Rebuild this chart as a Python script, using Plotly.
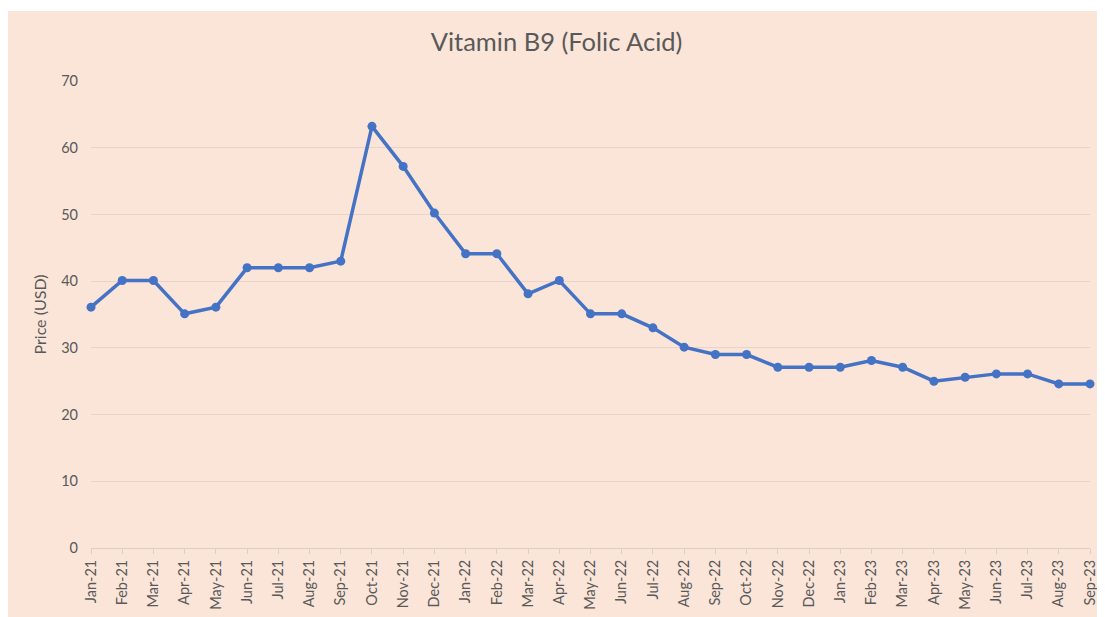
import plotly.graph_objects as go

months = ["Jan-21","Feb-21","Mar-21","Apr-21","May-21","Jun-21","Jul-21","Aug-21","Sep-21","Oct-21","Nov-21","Dec-21",
          "Jan-22","Feb-22","Mar-22","Apr-22","May-22","Jun-22","Jul-22","Aug-22","Sep-22","Oct-22","Nov-22","Dec-22",
          "Jan-23","Feb-23","Mar-23","Apr-23","May-23","Jun-23","Jul-23","Aug-23","Sep-23"]
prices = [36.1, 40.1, 40.1, 35.1, 36.1, 42, 42, 42, 43, 63.2, 57.2, 50.2,
          44.1, 44.1, 38.1, 40.1, 35.1, 35.1, 33, 30.1, 29, 29, 27.1, 27.1,
          27.1, 28.1, 27.1, 25, 25.6, 26.1, 26.1, 24.6, 24.6]
y_ticks = [0, 10, 20, 30, 40, 50, 60, 70]

# page body has an 8px margin; figure is offset accordingly
W, H = 1097, 609
L, R, T, B = 83, 15, 73, 69
pw, ph = W - L - R, H - T - B

def px(xp):
    return (xp - L) / pw

def py(yp):
    return (H - B - yp) / ph

fig = go.Figure()
fig.add_trace(go.Scatter(
    x=list(range(len(months))), y=prices, mode="lines+markers",
    line=dict(color="#4472C4", width=3.5),
    marker=dict(color="#4472C4", size=9),
    hoverinfo="x+y", cliponaxis=False,
))

fig.add_shape(type="rect", xref="paper", yref="paper",
              x0=px(-5), x1=px(W + 5), y0=py(3), y1=py(-5),
              fillcolor="white", line=dict(width=0), layer="below")

fig.update_layout(
    width=W, height=H,
    margin=dict(l=L, r=R, t=T, b=B, autoexpand=False),
    paper_bgcolor="#FAE5D8",
    plot_bgcolor="rgba(0,0,0,0)",
    showlegend=False,
    title=dict(text="Vitamin B9 (Folic Acid)", x=0.5, xanchor="center",
               y=1 - 34 / H, yanchor="middle",
               font=dict(family="Lato, Open Sans, sans-serif", size=25.5, color="#595959")),
    font=dict(family="Lato, Open Sans, sans-serif", color="#595959"),
)
fig.update_xaxes(
    range=[0, len(months) - 1], automargin=False,
    tickmode="array", tickvals=list(range(len(months))), ticktext=months,
    tickangle=-90, tickfont=dict(size=14.5, color="#595959"),
    showgrid=False, showline=True, linecolor="#D9CFC8", linewidth=1,
    ticks="outside", ticklen=5, tickcolor="#D9CFC8", zeroline=False,
)
fig.update_yaxes(
    range=[0, 70], automargin=False, tickvals=y_ticks, tickfont=dict(size=14.5, color="#595959"),
    showgrid=True, gridcolor="#E6D4C8", gridwidth=1, zeroline=False,
    title=dict(text="Price (USD)", font=dict(size=16, color="#595959"), standoff=10),
    ticks="", ticklabelstandoff=12,
)

fig.write_html("out.html")
